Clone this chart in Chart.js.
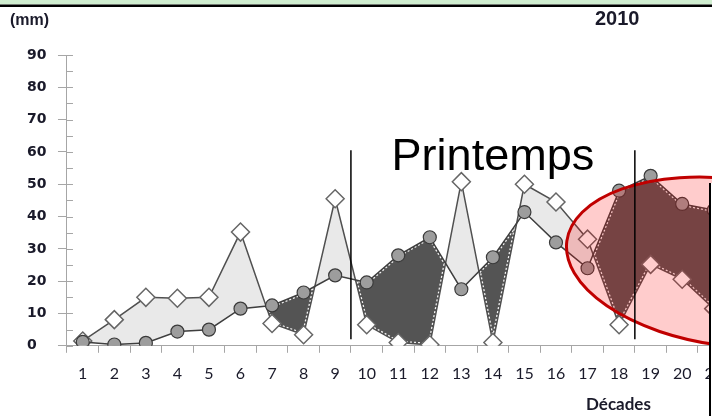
<!DOCTYPE html>
<html>
<head>
<meta charset="utf-8">
<title>2010</title>
<script src="https://cdn.jsdelivr.net/npm/chart.js@4/dist/chart.umd.min.js"></script>
<style>
  html, body { margin: 0; padding: 0; background: #fff; overflow: hidden; }
  #wrap { width: 712px; height: 416px; overflow: hidden; position: relative; }
  canvas { display: block; }
</style>
</head>
<body>
<div id="wrap"><canvas id="chart" width="740" height="416"></canvas></div>
<script>
// values (mm per décade)
const decades = ["1", "2", "3", "4", "5", "6", "7", "8", "9", "10", "11",
  "12", "13", "14", "15", "16", "17", "18", "19", "20", "21"];
const circles = [1.2, 0.4, 0.9, 4.4, 5, 11.5, 12.5, 16.5, 21.8, 19.6, 28,
  33.6, 17.5, 27.4, 41.4, 32, 24, 48, 52.6, 43.9, 42];
const diamonds = [1.5, 8.1, 15, 14.7, 15, 35.2, 6.9, 3.4, 45.5, 6.5, 1,
  0.3, 50.8, 1, 50, 44.5, 33, 6.5, 25.2, 20.6, 11.5];
const yTicks = [0, 10, 20, 30, 40, 50, 60, 70, 80, 90];

// season separators sit between decades (index units)
const seasonBreaks = [8.5, 17.5];

const COLORS = {
  axis: "#a6a6a6",
  text: "#1a1a2a",
  lineDark: "#3f3f3f",
  circleFill: "#9d9d9d",
  lightFill: "#e9e9e9",
  darkFill: "#545454",
  ellipseFill: "rgba(255, 0, 0, 0.2)",
  ellipseLine: "#c00000",
};

function tracePoints(ctx, pts) {
  pts.forEach((p, i) => (i ? ctx.lineTo(p.x, p.y) : ctx.moveTo(p.x, p.y)));
}

// white dotted edge inside the dark areas (where circles > diamonds)
const darkEdges = {
  id: "darkEdges",
  beforeDatasetsDraw(chart) {
    const { ctx, chartArea } = chart;
    const c = chart.getDatasetMeta(0).data;
    const d = chart.getDatasetMeta(1).data;
    ctx.save();
    ctx.beginPath();
    tracePoints(ctx, c);
    ctx.lineTo(c[c.length - 1].x, chartArea.bottom + 50);
    ctx.lineTo(c[0].x, chartArea.bottom + 50);
    ctx.closePath();
    ctx.clip();
    ctx.beginPath();
    tracePoints(ctx, d);
    ctx.lineTo(d[d.length - 1].x, chartArea.top - 50);
    ctx.lineTo(d[0].x, chartArea.top - 50);
    ctx.closePath();
    ctx.clip();
    ctx.strokeStyle = "#f4f4f4";
    ctx.lineWidth = 4;
    ctx.setLineDash([2, 2]);
    [c, d].forEach((pts) => {
      ctx.beginPath();
      tracePoints(ctx, pts);
      ctx.stroke();
    });
    ctx.restore();
  },
};

const overlay = {
  id: "overlay",
  afterDatasetsDraw(chart) {
    const { ctx, chartArea } = chart;
    const xs = chart.scales.x;
    const ys = chart.scales.y;
    ctx.save();

    // small ticks inside the y axis
    ctx.strokeStyle = COLORS.axis;
    ctx.lineWidth = 1;
    for (let v = 0; v <= 90; v += 5) {
      const py = Math.round(ys.getPixelForValue(v)) + 0.5;
      ctx.beginPath();
      ctx.moveTo(chartArea.left, py);
      ctx.lineTo(chartArea.left + 6, py);
      ctx.stroke();
    }

    // red ellipse around the end of spring
    const step = xs.getPixelForValue(1) - xs.getPixelForValue(0);
    const unit = ys.getPixelForValue(0) - ys.getPixelForValue(1);
    ctx.beginPath();
    ctx.ellipse(xs.getPixelForValue(20.5), ys.getPixelForValue(25.8),
      5.2 * step, 25.8 * unit, 0.13, 0, Math.PI * 2);
    ctx.fillStyle = COLORS.ellipseFill;
    ctx.fill();
    ctx.lineWidth = 3;
    ctx.strokeStyle = COLORS.ellipseLine;
    ctx.stroke();

    // season lines
    ctx.strokeStyle = "#000";
    ctx.lineWidth = 1.5;
    seasonBreaks.forEach((b) => {
      const px = xs.getPixelForValue(b);
      ctx.beginPath();
      ctx.moveTo(px, ys.getPixelForValue(60.5));
      ctx.lineTo(px, ys.getPixelForValue(2));
      ctx.stroke();
    });

    ctx.fillStyle = "#000";
    ctx.font = "45px 'Liberation Sans', Arial, sans-serif";
    ctx.textAlign = "center";
    ctx.textBaseline = "alphabetic";
    const mid = (xs.getPixelForValue(seasonBreaks[0]) + xs.getPixelForValue(seasonBreaks[1])) / 2;
    ctx.fillText("Printemps", mid, 170);

    // neighbouring frame cut at the right edge
    ctx.fillStyle = "#fff";
    ctx.fillRect(710, 183, 40, 240);
    ctx.strokeStyle = "#000";
    ctx.lineWidth = 2;
    ctx.beginPath();
    ctx.moveTo(710, 183);
    ctx.lineTo(710, 416);
    ctx.stroke();

    // header band
    ctx.fillStyle = "#d0eed0";
    ctx.fillRect(0, 0, 740, 4.5);
    ctx.fillStyle = "#000";
    ctx.fillRect(0, 4.5, 740, 2.5);

    ctx.fillStyle = COLORS.text;
    ctx.textAlign = "left";
    ctx.font = "bold 16px 'Liberation Sans', Arial, sans-serif";
    ctx.fillText("(mm)", 10, 25);
    ctx.font = "bold 20px 'Liberation Sans', Arial, sans-serif";
    ctx.fillText("2010", 595, 25);
    ctx.font = "bold 17px Lato, sans-serif";
    ctx.fillText("Décades", 586, 410);

    ctx.restore();
  },
};

new Chart(document.getElementById("chart"), {
  type: "line",
  data: {
    labels: decades,
    datasets: [
      {
        data: circles,
        borderColor: COLORS.lineDark,
        borderWidth: 1.5,
        pointRadius: 6.5,
        pointBackgroundColor: COLORS.circleFill,
        pointBorderColor: "#3a3a3a",
        pointBorderWidth: 1.2,
        fill: false,
        tension: 0,
      },
      {
        data: diamonds,
        borderColor: "#505050",
        borderWidth: 1.5,
        pointStyle: "rectRot",
        pointRadius: 9,
        pointBackgroundColor: "#fff",
        pointBorderColor: "#666",
        pointBorderWidth: 1.5,
        fill: { target: 0, above: COLORS.lightFill, below: COLORS.darkFill },
        tension: 0,
      },
    ],
  },
  options: {
    responsive: false,
    animation: false,
    layout: { padding: { left: 27, top: 55, right: 7, bottom: 22 } },
    plugins: {
      legend: { display: false },
      tooltip: { enabled: false },
      filler: { drawTime: "beforeDatasetsDraw" },
    },
    scales: {
      x: {
        offset: true,
        grid: { offset: true, drawOnChartArea: false, color: COLORS.axis, tickLength: 7 },
        border: { color: COLORS.axis },
        ticks: {
          color: COLORS.text,
          font: { family: "Lato", size: 16 },
          padding: 11,
          maxRotation: 0,
          autoSkip: false,
        },
      },
      y: {
        min: 0,
        max: 90,
        afterBuildTicks: (scale) => { scale.ticks = yTicks.map((v) => ({ value: v })); },
        grid: { drawOnChartArea: false, color: COLORS.axis, tickLength: 9 },
        border: { color: COLORS.axis },
        ticks: {
          color: COLORS.text,
          font: { family: "'DejaVu Sans'", size: 14, weight: "bold" },
          padding: 5.75,
          crossAlign: "far",
        },
      },
    },
  },
  plugins: [darkEdges, overlay],
});
</script>
</body>
</html>
